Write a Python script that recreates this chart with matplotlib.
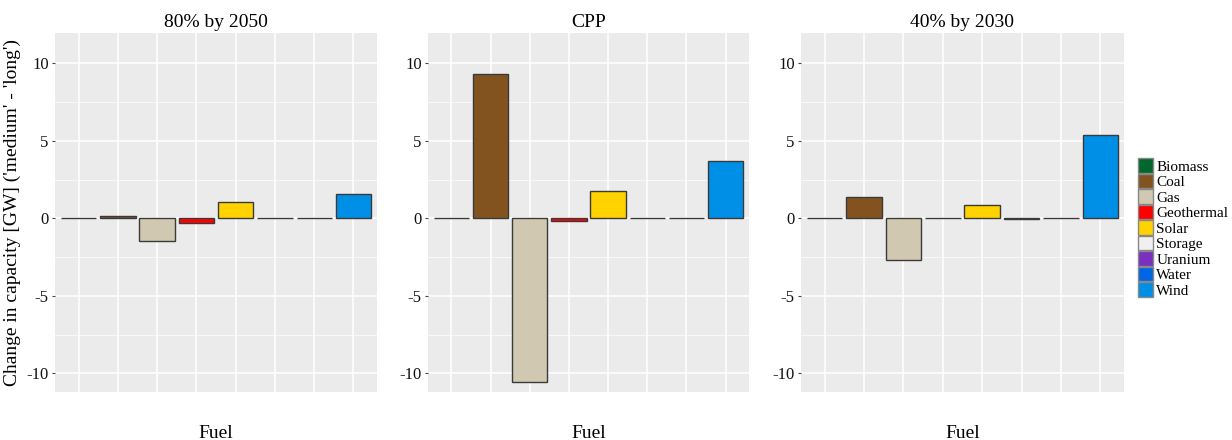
import matplotlib
matplotlib.use("Agg")
import matplotlib.pyplot as plt
from matplotlib.patches import Patch
import numpy as np

plt.rcParams['font.family'] = ['Liberation Serif', 'DejaVu Serif']

fuels = ["Biomass", "Coal", "Gas", "Geothermal", "Solar", "Storage", "Uranium", "Wind"]
legend_fuels = ["Biomass", "Coal", "Gas", "Geothermal", "Solar", "Storage", "Uranium", "Water", "Wind"]
colors = {
    "Biomass": "#00682F", "Coal": "#83531F", "Gas": "#D0C8B0", "Geothermal": "#FF0000",
    "Solar": "#FFD200", "Storage": "#F0F0F0", "Uranium": "#7B2FBE", "Water": "#0066E6",
    "Wind": "#008FE6",
}
panels = ["80% by 2050", "CPP", "40% by 2030"]
vals_80_2050 = [0.0, 0.17, -1.47, -0.33, 1.04, 0.0, 0.0, 1.58]
vals_cpp = [0.0, 9.33, -10.55, -0.15, 1.75, 0.0, 0.0, 3.68]
vals_40_2030 = [0.0, 1.38, -2.72, 0.0, 0.84, -0.03, 0.0, 5.38]
all_vals = [vals_80_2050, vals_cpp, vals_40_2030]

W, H = 1232, 440
fig = plt.figure(figsize=(W / 100, H / 100), dpi=100)
lefts = [55, 428, 801]
widths = [322, 321, 323]
top, bottom = 33, 392

for i, (title, vals) in enumerate(zip(panels, all_vals)):
    ax = fig.add_axes([lefts[i] / W, 1 - bottom / H, widths[i] / W, (bottom - top) / H])
    ax.set_facecolor("#EBEBEB")
    x = np.arange(len(fuels))
    ax.bar(x, vals, width=0.9, color=[colors[f] for f in fuels],
           edgecolor="#3A3A3A", linewidth=1.0, zorder=3)
    ax.set_xlim(-0.6, len(fuels) - 1 + 0.6)
    ax.set_ylim(-11.2, 11.95)
    ax.set_yticks([-10, -5, 0, 5, 10])
    ax.set_yticklabels(["-10", "-5", "0", "5", "10"])
    ax.set_yticks([-7.5, -2.5, 2.5, 7.5], minor=True)
    ax.set_xticks(x)
    ax.set_xticklabels([])
    ax.tick_params(axis='x', length=0)
    ax.tick_params(axis='y', which='major', length=2.5, color="#444444", labelsize=12, pad=2,
                   labelcolor="#111111")
    ax.tick_params(axis='y', which='minor', length=0)
    ax.grid(True, which='major', color="white", linewidth=1.1, zorder=0)
    ax.grid(True, which='minor', axis='y', color="white", linewidth=0.5, zorder=0)
    ax.set_axisbelow(True)
    for s in ax.spines.values():
        s.set_visible(False)
    ax.set_title(title, fontsize=14, pad=4)
    ax.set_xlabel("Fuel", fontsize=14, labelpad=20)
    if i == 0:
        ax.set_ylabel("Change in capacity [GW] ('medium' - 'long')", fontsize=14, labelpad=4)

handles = [Patch(facecolor=colors[f], edgecolor="#888888", linewidth=1.0, label=f) for f in legend_fuels]
fig.legend(handles=handles, loc="upper left", bbox_to_anchor=(1132 / W, 1 - 152 / H),
           frameon=False, fontsize=11, handlelength=1.0, handleheight=1.1,
           handletextpad=0.2, labelspacing=0.0, borderaxespad=0)

fig.savefig("out.png", dpi=100)
